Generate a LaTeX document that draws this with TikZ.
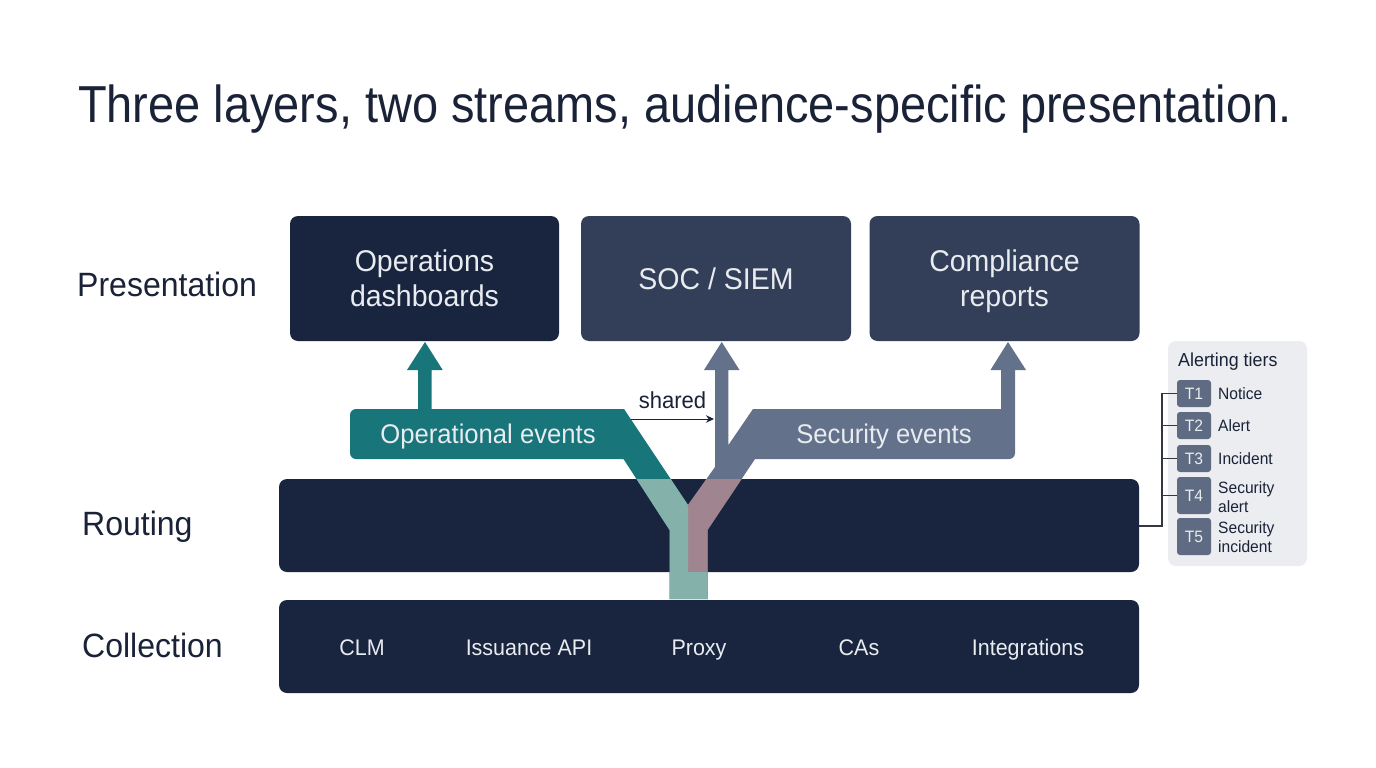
\documentclass[tikz,border=0pt]{standalone}
\usepackage{fontspec}
\setmainfont[FakeStretch=0.95]{Liberation Sans}
\newfontfamily\titlefont[FakeStretch=0.903]{Liberation Sans}
\usetikzlibrary{arrows.meta}
\definecolor{NavyBox}{RGB}{25,36,63}
\definecolor{SlateBox}{RGB}{51,63,88}
\definecolor{TitleInk}{RGB}{26,34,56}
\definecolor{OpsStream}{RGB}{24,117,122}
\definecolor{OpsLight}{RGB}{132,178,170}
\definecolor{SecStream}{RGB}{100,113,138}
\definecolor{SecLight}{RGB}{160,133,144}
\definecolor{TierPanel}{RGB}{235,237,240}
\definecolor{TierBadge}{RGB}{95,107,130}
\definecolor{BoxText}{RGB}{232,236,240}
\definecolor{TierLine}{RGB}{50,55,65}
\newcommand{\boxtop}{\rule{0pt}{29pt}}
\newcommand{\boxbot}{\rule[-8pt]{0pt}{8pt}}
\begin{document}
\begin{tikzpicture}[x=1pt,y=-1pt,
  box/.style n args={3}{fill=#1,rounded corners=8pt,minimum width=#2pt,minimum height=#3pt,inner sep=0pt,text=BoxText,align=center,font=\fontsize{30}{35}\selectfont},
  layer/.style={anchor=base west,text=TitleInk,inner sep=0pt,font=\fontsize{33.7}{38}\selectfont},
  item/.style={anchor=base,text=BoxText,inner sep=0pt,font=\fontsize{22.6}{26}\selectfont},
  band/.style={anchor=base,text=BoxText,inner sep=0pt,font=\fontsize{27}{30}\selectfont},
  tier/.style n args={1}{fill=TierBadge,rounded corners=3pt,minimum width=34pt,minimum height=#1pt,inner sep=0pt,text=BoxText,font=\fontsize{16.5}{19}\selectfont},
  tiertext/.style={anchor=west,align=left,text=TitleInk,inner sep=0pt,font=\fontsize{16.4}{19}\selectfont}]
\useasboundingbox (0,0) rectangle (1376,768);
\fill[white] (0,0) rectangle (1376,768);
\node[anchor=base west,inner sep=0pt,text=TitleInk,font=\titlefont\fontsize{52}{60}\selectfont] (title) at (78,122.5) {Three layers, two streams, audience-specific presentation.};
\node[layer] (presentation) at (77,296.7) {Presentation};
\node[layer] (routinglabel) at (82,535) {Routing};
\node[layer] (collectionlabel) at (82,657.5) {Collection};
\node[box={NavyBox}{269}{125}] (ops) at (424.5,278.5) {\boxtop Operations\\dashboards\boxbot};
\node[box={SlateBox}{270}{125}] (soc) at (716,278.5) {\boxtop SOC / SIEM\boxbot};
\node[box={SlateBox}{270}{125}] (comp) at (1004.5,278.5) {\boxtop Compliance\\reports\boxbot};
\node[box={NavyBox}{860}{93}] (routing) at (709,525.5) {};
\node[box={NavyBox}{860}{93}] (collection) at (709,646.5) {};
\foreach \x/\1/\n in %
{362/CLM/clm,529/Issuance API/api,699/Proxy/proxy,859/CAs/cas,1028/Integrations/integ} {
   \node[item] (\n) at (\x,655) {\1};
}
% streams
\fill[SecStream] (688,572) -- (688,505) -- (715,467) -- (715,370) -- (704,370) -- (721.7,342) -- (739.5,370) -- (728.4,370) -- (728.4,445) -- (753,409) -- (1001,409) -- (1001,370) -- (990.5,370) -- (1008,342) -- (1026,370) -- (1015,370) [rounded corners=6pt] -- (1015,459) [sharp corners] -- (755,459) -- (707.5,530) -- (707.5,572) -- cycle;
\fill[OpsStream] (688,505) -- (624,409) -- (431.5,409) -- (431.5,370) -- (442.7,370) -- (425,342) -- (407,370) -- (418,370) -- (418,409) [rounded corners=6pt] -- (350,409) -- (350,459) [sharp corners] -- (623.5,459) -- (669.5,530) -- (669.5,599) -- (707.5,599) -- (707.5,572) -- (688,572) -- cycle;
\begin{scope}
\clip (0,479) rectangle (1376,599);
\fill[SecLight] (688,572) -- (688,505) -- (715,467) -- (755,459) -- (707.5,530) -- (707.5,572) -- cycle;
\fill[OpsLight] (688,505) -- (624,409) -- (623.5,459) -- (669.5,530) -- (669.5,599) -- (707.5,599) -- (707.5,572) -- (688,572) -- cycle;
\end{scope}
\node[band] (opsband) at (488,443.5) {Operational events};
\node[band] (secband) at (884,443.5) {Security events};
\coordinate (sharedstart) at (631,419);
\coordinate (sharedend) at (714,419);
\draw[-{Stealth[length=8pt,width=7.5pt]},TitleInk,line width=1pt] (sharedstart) -- (sharedend);
\node[anchor=base,inner sep=0pt,text=TitleInk,font=\fontsize{23.2}{26}\selectfont] (shared) at (672.5,408) {shared};
% alerting tiers
\node[fill=TierPanel,rounded corners=8pt,minimum width=139pt,minimum height=225pt,inner sep=0pt] (panel) at (1237.5,453.5) {};
\node[anchor=base west,text=TitleInk,inner sep=0pt,font=\fontsize{18.8}{22}\selectfont] (tiertitle) at (1178,366.7) {Alerting tiers};
\foreach \y/\yl/\h/\1/\t/\n in %
{393.5/394/27/T1/Notice/1,425.5/426/27/T2/Alert/2,458.5/458.5/27/T3/Incident/3,495.5/497.5/37/T4/Security\\alert/4,536.5/537.5/37/T5/Security\\incident/5} {
   \node[tier={\h}] (t\n) at (1194,\y) {\1};
   \node[tiertext] (l\n) at (1218,\yl) {\t};
}
\coordinate (trunk) at (1162,526);
\draw[TierLine,line width=1.2pt] (routing.east |- trunk) -- (trunk) |- (t1.west);
\foreach \n in {2,3,4} {
   \draw[TierLine,line width=1.2pt] (trunk |- t\n.west) -- (t\n.west);
}
\end{tikzpicture}
\end{document}
